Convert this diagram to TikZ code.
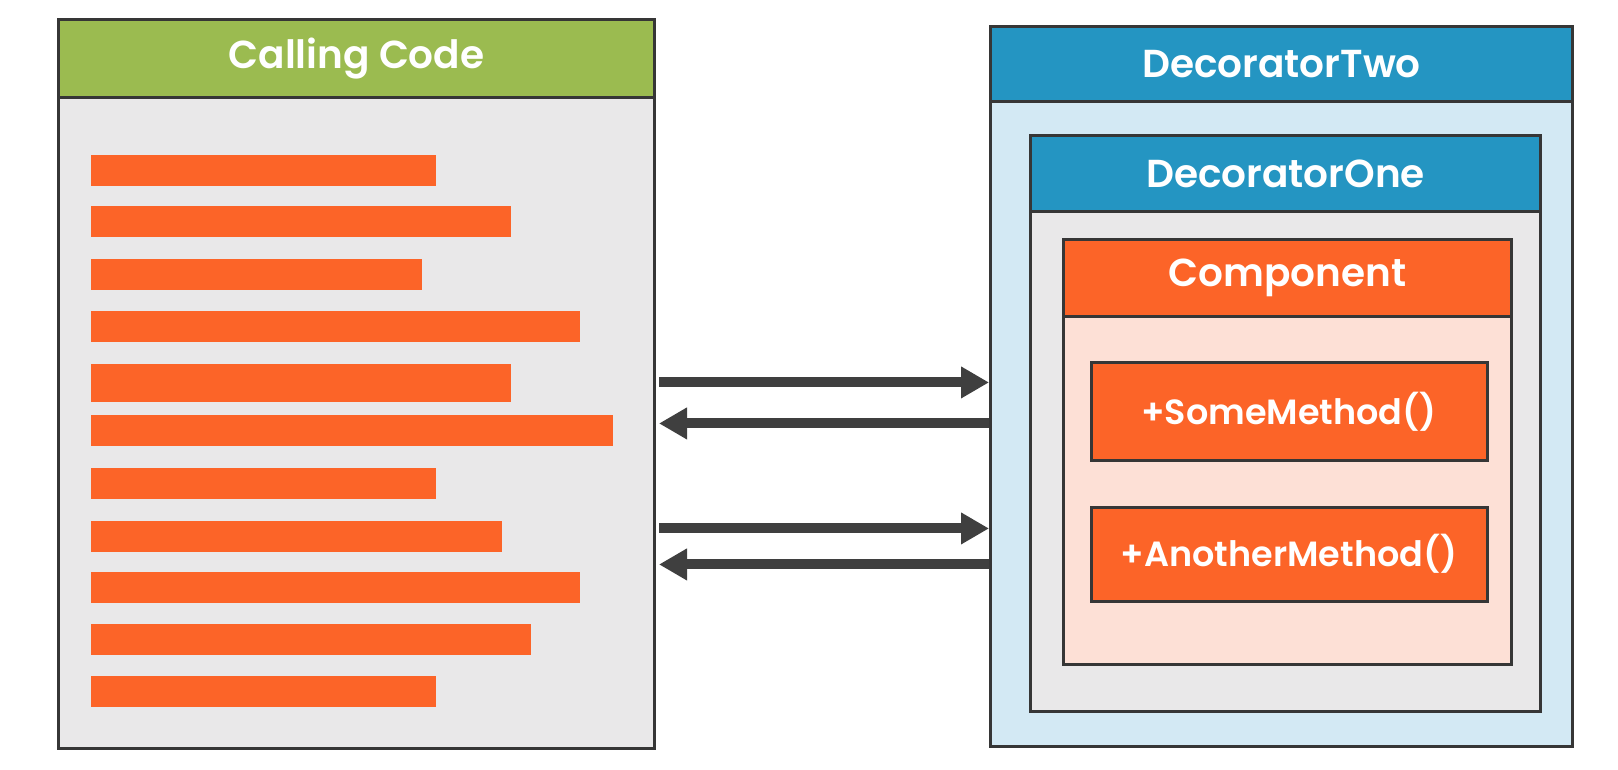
\documentclass[tikz,border=0pt]{standalone}
\usepackage{fontspec}
\setmainfont{Poppins}[BoldFont={Poppins SemiBold}]
\usetikzlibrary{positioning, arrows.meta}

\definecolor{codegreen}{HTML}{9BBB50}
\definecolor{decoblue}{HTML}{2495C2}
\definecolor{barorange}{HTML}{FC6428}
\definecolor{paleblue}{HTML}{D3E9F4}
\definecolor{palegrey}{HTML}{E9E8E9}
\definecolor{palepeach}{HTML}{FDE0D6}
\definecolor{edgegrey}{HTML}{363636}
\definecolor{arrowgrey}{HTML}{3F3F3F}

\begin{document}
\begin{tikzpicture}
        [
            x=0.5pt, y=-0.5pt,
            panel/.style={draw=edgegrey, line width=1.5pt, anchor=north west,
                          inner sep=0pt},
            header/.style={panel, text=white,
                           font=\fontsize{19.5}{22}\selectfont\bfseries},
            bar/.style={fill=barorange, anchor=west, inner sep=0pt,
                        minimum height=15.5pt},
            method/.style={panel, anchor=center, fill=barorange, text=white,
                           minimum width=198pt,
                           font=\fontsize{17.5}{20}\selectfont\bfseries},
            call/.style={-{Triangle[length=14pt, width=15pt]},
                         line width=5pt, draw=arrowgrey}
        ]
        \useasboundingbox (0,0) rectangle (1618,770);
        % calling code
        \node (calling) [panel, fill=palegrey, minimum width=298pt,
                         minimum height=364.25pt] at (57,18.5) {};
        \node (callhead) [header, fill=codegreen, minimum width=298pt,
                          minimum height=38.75pt] at (calling.north west)
                         {Calling Code};
        \foreach \n/\w/\y in {1/172.25/170.5, 2/210/222, 3/165.5/275,
                              4/244.5/327, 6/261/430.5, 7/172.25/483,
                              8/205.25/536, 9/244.5/587, 10/219.75/639,
                              11/172.25/691}
            \node (bar\n) [bar, minimum width=\w pt] at (91,\y) {};
        \node (bar5) [bar, minimum width=210pt, minimum height=19pt]
                     at (91,383) {};
        % decorators
        \node (deco2) [panel, fill=paleblue, minimum width=291pt,
                       minimum height=360pt] at (989,25) {};
        \node (deco2head) [header, fill=decoblue, minimum width=291pt,
                           minimum height=37.5pt] at (deco2.north west)
                          {DecoratorTwo};
        \node (deco1) [panel, fill=palegrey, minimum width=255pt,
                       minimum height=288pt] at (1029,134) {};
        \node (deco1head) [header, fill=decoblue, minimum width=255pt,
                           minimum height=38pt] at (deco1.north west)
                          {DecoratorOne};
        \node (comp) [panel, fill=palepeach, minimum width=224pt,
                      minimum height=212.5pt] at (1062,238) {};
        \node (comphead) [header, fill=barorange, minimum width=224pt,
                          minimum height=38.5pt] at (comp.north west)
                         {Component};
        \node (some) [method, minimum height=48.5pt] at (1289,411.5)
                     {+SomeMethod()};
        \node (another) [method, minimum height=47pt] at (1289,554)
                        {+AnotherMethod()};
        % calls
        \coordinate (out1) at ([yshift=0.9pt]calling.east);
        \coordinate (back1) at ([yshift=-19.6pt]calling.east);
        \coordinate (out2) at ([yshift=-72.1pt]calling.east);
        \coordinate (back2) at ([yshift=-90.1pt]calling.east);
        \draw [call] ([xshift=1.5pt]out1) -- (out1 -| deco2.west);
        \draw [call] (back1 -| deco2.west) -- ([xshift=1.5pt]back1);
        \draw [call] ([xshift=1.5pt]out2) -- (out2 -| deco2.west);
        \draw [call] (back2 -| deco2.west) -- ([xshift=1.5pt]back2);
\end{tikzpicture}
\end{document}
